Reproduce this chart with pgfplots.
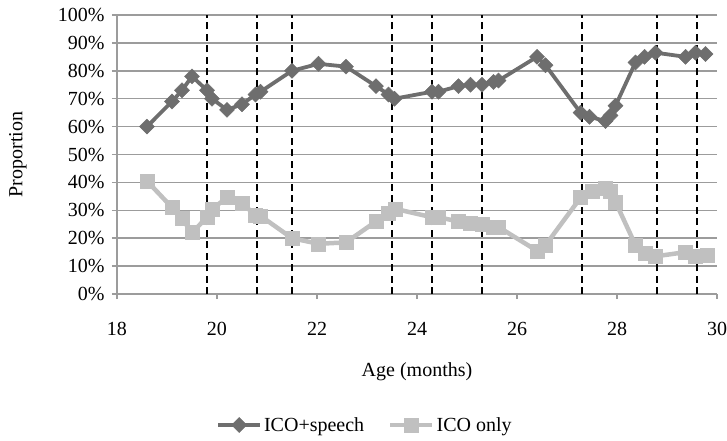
\documentclass[border=0pt]{standalone}
\usepackage{pgfplots}
\pgfplotsset{compat=1.18}
\usepackage{fontspec}
\setmainfont{Liberation Serif}
\definecolor{darkser}{HTML}{6E6E6E}
\definecolor{lightser}{HTML}{C0C0C0}
\definecolor{gridc}{HTML}{9C9C9C}
\newcommand{\fs}{\fontsize{20bp}{24bp}\selectfont}
\begin{document}
\begin{tikzpicture}
\path[use as bounding box] (-117bp,-147bp) rectangle (610bp,294bp);
\begin{axis}[
  at={(0,0)}, anchor=south west,
  scale only axis, width=600bp, height=279bp,
  xmin=18, xmax=30, ymin=0, ymax=100,
  xtick={18,20,...,30}, ytick={0,10,...,100},
  yticklabel={\pgfmathprintnumber{\tick}\%},
  /pgf/number format/assume math mode=true,
  axis lines*=left,
  axis line style={gridc, line width=1.5bp},
  tick align=outside, major tick length=5bp,
  tick style={gridc, line width=1.5bp},
  ymajorgrids, grid style={gridc, line width=1.5bp},
  tick label style={font=\fs},
  x tick label style={yshift=-20bp},
  y tick label style={xshift=-4bp},
  every axis x label/.style={at={(axis description cs:0.5,0)}, yshift=-78bp, anchor=center, font=\fs},
  every axis y label/.style={at={(axis description cs:0,0.5)}, xshift=-99bp, rotate=90, anchor=center, font=\fs},
  xlabel={Age (months)}, ylabel={Proportion},
  legend style={at={(axis description cs:0.5,0)}, anchor=center, yshift=-131bp, xshift=-52bp, draw=none, fill=none, font=\fs, legend columns=2, /tikz/every even column/.append style={column sep=22bp}},
  legend image code/.code={\draw[mark repeat=2,mark phase=2,#1] plot coordinates {(0bp,0bp)(21bp,0bp)(42bp,0bp)};},
]
\addplot[darkser, line width=3.8bp, mark=square*, mark size=5.3bp, mark options={rotate=45, fill=darkser, draw=darkser, line width=0.5bp}] coordinates {
(18.6,60) (19.1,69) (19.3,73) (19.5,78) (19.8,73) (19.9,70) (20.2,66) (20.5,68) (20.77,71.5) (20.87,72.5) (21.5,80) (22.03,82.5) (22.58,81.5) (23.18,74.5) (23.43,71.5) (23.55,70)
(24.3,72.5) (24.43,72.5) (24.83,74.5) (25.07,75) (25.3,75) (25.53,76) (25.63,76.5) (26.4,85) (26.57,82) (27.27,65) (27.45,63.5) (27.77,62) (27.87,64) (27.97,67.5) (28.37,83) (28.55,85) (28.77,86.5) (29.37,85) (29.57,86.5) (29.77,86)
};
\addlegendentry{ICO+speech}
\addplot[lightser, line width=4.5bp, mark=square*, mark size=7bp, mark options={fill=lightser, draw=lightser, line width=0.5bp}] coordinates {
(18.6,40.5) (19.1,31) (19.3,27) (19.5,22) (19.8,27.5) (19.9,30.5) (20.2,34.5) (20.5,32.5) (20.77,28.3) (20.87,28) (21.5,20) (22.03,18) (22.58,18.5) (23.18,26) (23.43,29) (23.57,30.5) (24.3,27.5) (24.43,27.5) (24.83,26) (25.07,25.3) (25.3,25) (25.53,24) (25.63,24) (26.4,15.5) (26.57,17.5) (27.27,34.5) (27.5,37) (27.77,38) (27.87,37) (27.97,33) (28.37,17.5) (28.57,14.5) (28.77,13.5) (29.37,15) (29.57,13.5) (29.8,14)
};
\addlegendentry{ICO only}
\pgfplotsinvokeforeach{19.8,20.8,21.5,23.5,24.3,25.3,27.3,28.8,29.6}{
  \addplot[black, line width=2bp, dash pattern=on 7bp off 4.5bp, forget plot] coordinates {(#1,0) (#1,100)};
}
\end{axis}
\end{tikzpicture}
\end{document}
